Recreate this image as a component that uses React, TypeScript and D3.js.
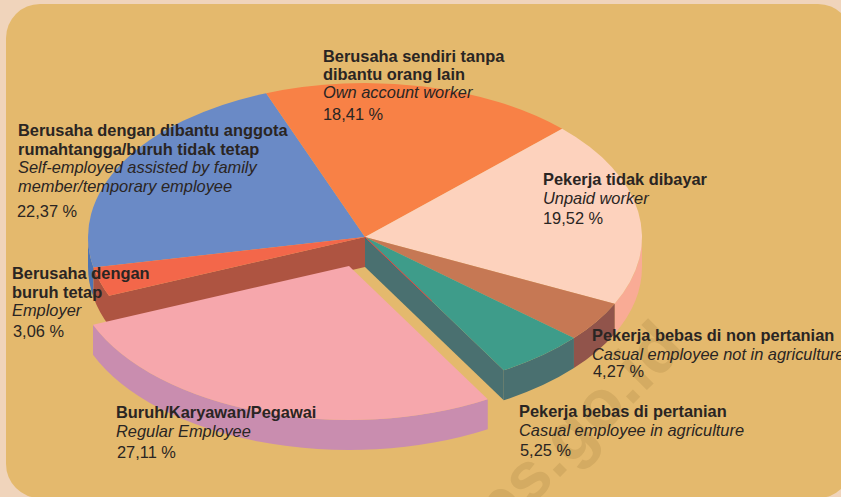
import React from "react";
import * as d3 from "d3";

const W = 841, H = 497;
const names = ["Own account", "Unpaid", "Casual non-agri", "Casual agri", "Regular", "Employer", "Self-employed"];
const values = [18.41, 19.52, 4.27, 5.25, 27.11, 3.06, 22.37];
const topColors = ["#f88146", "#fdd2bd", "#c67854", "#3e9c8a", "#f6a7ac", "#f3674a", "#6a8ac6"];
const rimColors = ["#c96a3a", "#f9ab95", "#91544b", "#4a7070", "#c98daf", "#ae5441", "#4d74b4"];
const explodeX = [0, 0, 0, 0, -16, 0, 0];
const explodeY = [0, 0, 0, 0, 29, 0, 0];

type Label = { x: number; y: number; text: string; style: "b" | "i" | "n" };
const labels: Label[] = [
  { x: 323, y: 62, text: "Berusaha sendiri tanpa", style: "b" },
  { x: 323, y: 80, text: "dibantu orang lain", style: "b" },
  { x: 323, y: 98, text: "Own account worker", style: "i" },
  { x: 323, y: 120, text: "18,41 %", style: "n" },
  { x: 18, y: 136, text: "Berusaha dengan dibantu anggota", style: "b" },
  { x: 18, y: 155, text: "rumahtangga/buruh tidak tetap", style: "b" },
  { x: 18, y: 173, text: "Self-employed assisted by family", style: "i" },
  { x: 18, y: 192, text: "member/temporary employee", style: "i" },
  { x: 17, y: 217, text: "22,37 %", style: "n" },
  { x: 543, y: 185, text: "Pekerja tidak dibayar", style: "b" },
  { x: 543, y: 204, text: "Unpaid worker", style: "i" },
  { x: 543, y: 224, text: "19,52 %", style: "n" },
  { x: 12, y: 279, text: "Berusaha dengan", style: "b" },
  { x: 12, y: 298, text: "buruh tetap", style: "b" },
  { x: 12, y: 316, text: "Employer", style: "i" },
  { x: 13, y: 337, text: "3,06 %", style: "n" },
  { x: 592, y: 341, text: "Pekerja bebas di non pertanian", style: "b" },
  { x: 592, y: 360, text: "Casual employee not in agriculture", style: "i" },
  { x: 593, y: 377, text: "4,27 %", style: "n" },
  { x: 116, y: 418, text: "Buruh/Karyawan/Pegawai", style: "b" },
  { x: 116, y: 437, text: "Regular Employee", style: "i" },
  { x: 117, y: 458, text: "27,11 %", style: "n" },
  { x: 519, y: 417, text: "Pekerja bebas di pertanian", style: "b" },
  { x: 519, y: 436, text: "Casual employee in agriculture", style: "i" },
  { x: 520, y: 456, text: "5,25 %", style: "n" },
];

const cx = 365, cy = 237, rx = 277, ry = 154, depth = 30;
const start = (-20.9 * Math.PI) / 180;

export default function App() {
  const pie = d3.pie<number>().sort(null).startAngle(start).endAngle(start + 2 * Math.PI);
  const arcs = pie(values);
  const k = ry / rx;
  const arcGen = d3.arc<d3.PieArcDatum<number>>().innerRadius(0).outerRadius(rx);
  const px = (a: number) => rx * Math.sin(a);
  const py = (a: number) => -ry * Math.cos(a);

  const rim = (a0: number, a1: number) => {
    const s = Math.max(a0, Math.PI / 2), e = Math.min(a1, (3 * Math.PI) / 2);
    if (e <= s) return null;
    return `M${px(s)},${py(s)}A${rx},${ry} 0 0 1 ${px(e)},${py(e)}L${px(e)},${py(e) + depth}A${rx},${ry} 0 0 0 ${px(s)},${py(s) + depth}Z`;
  };
  const wall = (a: number) =>
    `M0,0L${px(a)},${py(a)}L${px(a)},${py(a) + depth}L0,${depth}Z`;

  const green = arcs[3];
  const red = arcs[5];
  const order = [6, 0, 1, 2, 3, 5];
  const pinkArc = arcs[4];

  return (
    <svg width={W} height={H} style={{ position: "absolute", left: 0, top: 0 }} fontFamily="'Liberation Sans', Arial, sans-serif">
      <rect width={W} height={H} fill="#f0d4bb" />
      <rect x={6} y={4} width={846} height={494} rx={34} ry={34} fill="#e4b96d" />
      <text transform="translate(470,567) rotate(-45)" fontSize={69} fontWeight={700} fill="#d4ab62">bps.go.id</text>
      <g transform={`translate(${cx},${cy})`}>
        {order.map((i) => {
          const d = rim(arcs[i].startAngle, arcs[i].endAngle);
          return d ? <path key={"rim" + names[i]} d={d} fill={rimColors[i]} /> : null;
        })}
        <path d={wall(red.startAngle)} fill={rimColors[5]} />
        <path d={wall(green.endAngle)} fill={rimColors[3]} />
        {order.map((i) => (
          <path key={names[i]} d={arcGen(arcs[i]) || ""} transform={`scale(1,${k})`} fill={topColors[i]} />
        ))}
        <line x1={0} y1={0} x2={px(green.endAngle) * 0.48} y2={py(green.endAngle) * 0.48} stroke="#e8433f" strokeWidth={1} />
        <g transform={`translate(${explodeX[4]},${explodeY[4]})`}>
          <path d={rim(pinkArc.startAngle, pinkArc.endAngle) || ""} fill={rimColors[4]} />
          <path d={arcGen(pinkArc) || ""} transform={`scale(1,${k})`} fill={topColors[4]} />
        </g>
      </g>
      {labels.map((l, i) => (
        <text
          key={i}
          x={l.x}
          y={l.y}
          fill="#2a2523"
          fontSize={16.4}
          fontWeight={l.style === "b" ? 700 : 400}
          fontStyle={l.style === "i" ? "italic" : "normal"}
        >
          {l.text}
        </text>
      ))}
    </svg>
  );
}
